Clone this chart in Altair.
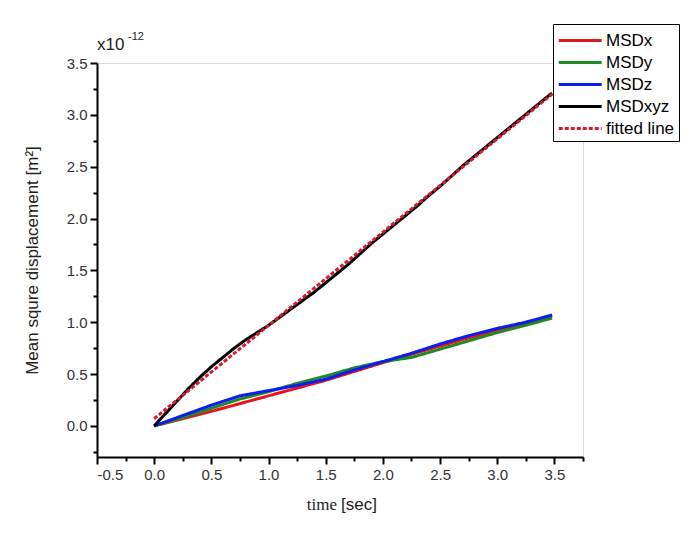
import altair as alt
import pandas as pd

# ---- data ----
t_x = [0.0, 0.5, 1.0, 1.5, 2.0, 2.25, 2.5, 2.75, 3.0, 3.25, 3.48]
msd_x = [0.0, 0.14, 0.29, 0.44, 0.61, 0.69, 0.77, 0.85, 0.92, 0.99, 1.06]

t_yz = [0.0, 0.25, 0.5, 0.75, 1.0, 1.25, 1.5, 1.75, 2.0, 2.25, 2.5, 2.75, 3.0, 3.25, 3.48]
msd_y = [0.0, 0.08, 0.17, 0.26, 0.33, 0.41, 0.48, 0.56, 0.62, 0.66, 0.74, 0.82, 0.90, 0.97, 1.04]
msd_z = [0.0, 0.10, 0.20, 0.29, 0.34, 0.39, 0.45, 0.54, 0.62, 0.70, 0.79, 0.87, 0.94, 1.00, 1.07]

t_xyz = [0.0, 0.1, 0.2, 0.3, 0.4, 0.5, 0.6, 0.7, 0.8, 0.9, 1.0, 1.1, 1.2, 1.3, 1.4, 1.5,
         1.6, 1.7, 1.8, 1.9, 2.0, 2.1, 2.2, 2.3, 2.4, 2.5, 2.6, 2.7, 2.8, 2.9, 3.0,
         3.1, 3.2, 3.3, 3.4, 3.48]
msd_xyz = [0.0, 0.12, 0.24, 0.36, 0.47, 0.57, 0.66, 0.75, 0.83, 0.90, 0.97, 1.05, 1.13,
           1.21, 1.29, 1.38, 1.47, 1.56, 1.66, 1.76, 1.85, 1.94, 2.03, 2.12, 2.22, 2.31,
           2.41, 2.51, 2.60, 2.69, 2.78, 2.87, 2.96, 3.05, 3.14, 3.21]

fit_t = [0.0, 3.48]
fit_v = [0.07, 3.20]

series_names = ["MSDx", "MSDy", "MSDz", "MSDxyz", "fitted line"]
series_colors = ["#e8141b", "#1f8a24", "#0a1ef0", "#000000", "#d81a30"]

x_ticks = [-0.5, -0.25, 0.0, 0.25, 0.5, 0.75, 1.0, 1.25, 1.5, 1.75, 2.0, 2.25, 2.5,
           2.75, 3.0, 3.25, 3.5, 3.75]
y_ticks = [-0.25, 0.0, 0.25, 0.5, 0.75, 1.0, 1.25, 1.5, 1.75, 2.0, 2.25, 2.5, 2.75,
           3.0, 3.25, 3.5]

rows = []
for name, ts, vs in [("MSDx", t_x, msd_x), ("MSDy", t_yz, msd_y), ("MSDz", t_yz, msd_z),
                     ("MSDxyz", t_xyz, msd_xyz), ("fitted line", fit_t, fit_v)]:
    for i, (t, v) in enumerate(zip(ts, vs)):
        rows.append({"series": name, "t": t, "v": v, "i": i})
df = pd.DataFrame(rows)

W, H = 486, 394
FONT = "Liberation Sans"

label_expr = "datum.value % 0.5 == 0 ? replace(format(datum.value, '.1f'), '\u2212', '-') : ''"
minor_size = {"condition": {"test": "datum.value % 0.5 != 0", "value": 4}, "value": 7}

x_axis = alt.Axis(values=x_ticks, labelExpr=label_expr, tickSize=minor_size,
                  title=None, grid=False, domainColor="black", domainWidth=2,
                  tickColor="black", tickWidth=2, labelFont=FONT, labelFontSize=15,
                  labelColor="#333333", labelPadding=3)
y_axis = alt.Axis(values=y_ticks, labelExpr=label_expr, tickSize=minor_size,
                  title="Mean squre displacement [m\u00b2]", titleFont=FONT,
                  titleFontSize=17, titleFontWeight="normal", titleColor="#222222",
                  titlePadding=25, grid=False, domainColor="black", domainWidth=2,
                  tickColor="black", tickWidth=2, labelFont=FONT, labelFontSize=15,
                  labelColor="#333333", labelPadding=3)

lines = alt.Chart(df).mark_line(clip=True).encode(
    x=alt.X("t:Q", scale=alt.Scale(domain=[-0.5, 3.75], nice=False, zero=False), axis=x_axis),
    y=alt.Y("v:Q", scale=alt.Scale(domain=[-0.3, 3.5], nice=False, zero=False), axis=y_axis),
    color=alt.Color("series:N", scale=alt.Scale(domain=series_names, range=series_colors),
                    sort=series_names,
                    legend=alt.Legend(title=None, orient="none", legendX=456, legendY=-39,
                                      symbolType="M-1,0H3", symbolStrokeWidth=4,
                                      symbolSize=460, labelFont=FONT, labelFontSize=17,
                                      labelColor="black", strokeColor="black",
                                      fillColor="white", padding=4, rowPadding=1,
                                      labelOffset=24, offset=0)),
    strokeDash=alt.StrokeDash("series:N",
                              scale=alt.Scale(domain=series_names,
                                              range=[[1, 0], [1, 0], [1, 0], [1, 0], [4, 2]]),
                              sort=series_names, legend=None),
    strokeWidth=alt.StrokeWidth("series:N",
                                scale=alt.Scale(domain=series_names, range=[3, 3, 3, 3, 2]),
                                legend=None),
    order="i:Q",
)

ann = pd.DataFrame({"txt": ["x10"]})
x10 = alt.Chart(ann).mark_text(align="left", baseline="middle", font=FONT,
                               fontSize=17, color="#222222").encode(
    x=alt.value(0), y=alt.value(-18), text="txt:N")
ann2 = pd.DataFrame({"txt": ["-12"]})
exp = alt.Chart(ann2).mark_text(align="left", baseline="middle", font=FONT,
                                fontSize=11, color="#222222").encode(
    x=alt.value(31), y=alt.value(-26), text="txt:N")
ann3 = pd.DataFrame({"txt": ["time"]})
t1 = alt.Chart(ann3).mark_text(align="right", baseline="middle", font="Liberation Serif",
                               fontSize=17, color="#222222").encode(
    x=alt.value(240), y=alt.value(H + 48), text="txt:N")
ann4 = pd.DataFrame({"txt": ["[sec]"]})
t2 = alt.Chart(ann4).mark_text(align="left", baseline="middle", font=FONT,
                               fontSize=17, color="#222222").encode(
    x=alt.value(244), y=alt.value(H + 48), text="txt:N")

chart = alt.layer(lines, x10, exp, t1, t2).properties(
    width=W, height=H,
    autosize=alt.AutoSizeParams(type="none"),
    padding={"left": 97, "top": 63, "right": 117, "bottom": 82},
).configure_view(stroke=None).configure(background="white")

chart.save("out.html", embed_options={"renderer": "svg", "actions": False})
